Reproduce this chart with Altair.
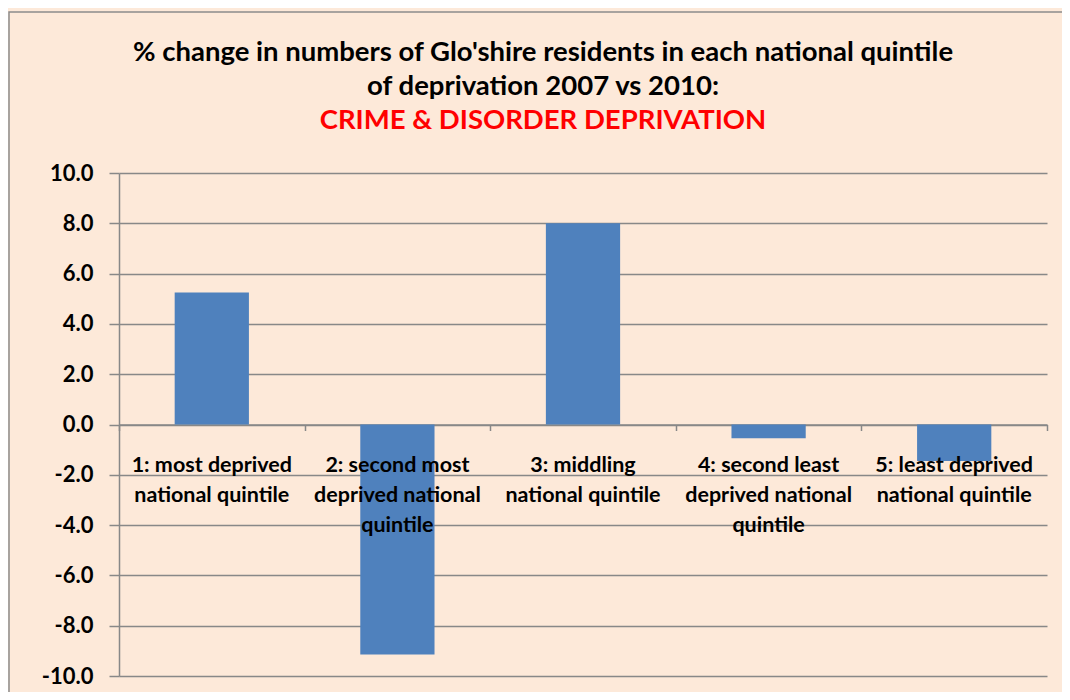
import altair as alt
import pandas as pd

categories = [
    "1: most deprived\nnational quintile",
    "2: second most\ndeprived national\nquintile",
    "3: middling\nnational quintile",
    "4: second least\ndeprived national\nquintile",
    "5: least deprived\nnational quintile",
]
values = [5.25, -9.15, 8.0, -0.55, -1.45]
y_ticks = [-10, -8, -6, -4, -2, 0, 2, 4, 6, 8, 10]
title_lines = [
    "% change in numbers of Glo'shire residents in each national quintile",
    "of deprivation 2007 vs 2010:",
]
subtitle = "CRIME & DISORDER DEPRIVATION"

FONT = "Lato"
W, H = 928, 503

df = pd.DataFrame({"cat": categories, "val": values})

x_enc = alt.X(
    "cat:N",
    sort=categories,
    scale=alt.Scale(paddingInner=0, paddingOuter=0),
    axis=alt.Axis(
        title=None, labels=False, offset=-H / 2, tickBand="extent",
        domainColor="#888888", domainWidth=1.5, tickColor="#888888",
        tickWidth=1.5, tickSize=6, grid=False,
    ),
)
y_scale = alt.Scale(domain=[-10, 10], nice=False)

border = alt.Chart(pd.DataFrame({"a": [0]})).mark_rect(
    fillOpacity=0, stroke="#8c8c8c", strokeWidth=1.5
).encode(
    x=alt.value(-110), x2=alt.value(W + 20),
    y=alt.value(-161), y2=alt.value(H + 20),
)

bars = alt.Chart(df).mark_bar(
    color="#4F81BD", width=alt.RelativeBandSize(0.4)
).encode(
    x=x_enc,
    y=alt.Y(
        "val:Q", scale=y_scale,
        axis=alt.Axis(
            title=None, values=y_ticks,
            labelExpr="(datum.value < 0 ? '-' : '') + format(abs(datum.value), '.1f')",
            labelFont=FONT, labelFontSize=22, labelFontWeight="bold",
            labelColor="#000000", labelPadding=16,
            domainColor="#888888", domainWidth=1.5,
            tickColor="#888888", tickWidth=1.5, tickSize=10,
            gridColor="#888888", gridWidth=1.5, gridOpacity=1,
        ),
    ),
    y2=alt.datum(0),
)

labels = alt.Chart(df).mark_text(
    font=FONT, fontSize=21.5, fontWeight="bold", color="#000000",
    baseline="alphabetic", align="center", dy=47, lineHeight=30,
    lineBreak="\n",
).encode(
    x=alt.X("cat:N", sort=categories),
    y=alt.Y("zero:Q", scale=y_scale),
    text="cat:N",
).transform_calculate(zero="0")

title_pos = [-120, -86, -52]
title_layers = []
for i, line in enumerate(title_lines + [subtitle]):
    title_layers.append(
        alt.Chart(pd.DataFrame({"t": [line]})).mark_text(
            font=FONT, fontSize=27.5, fontWeight="bold",
            color="#FF0000" if i == 2 else "#000000",
            align="center", baseline="middle",
        ).encode(
            x=alt.value(424), y=alt.value(title_pos[i]), text="t:N"
        )
    )

chart = alt.layer(bars, labels, border, *title_layers).properties(
    width=W, height=H,
    padding={"left": 111, "top": 165, "right": 15, "bottom": 16},
    autosize=alt.AutoSizeParams(type="none"),
    background="#FDE9D9",
).configure_view(stroke=None)

chart.save("out.html", embed_options={"renderer": "svg", "actions": False})
